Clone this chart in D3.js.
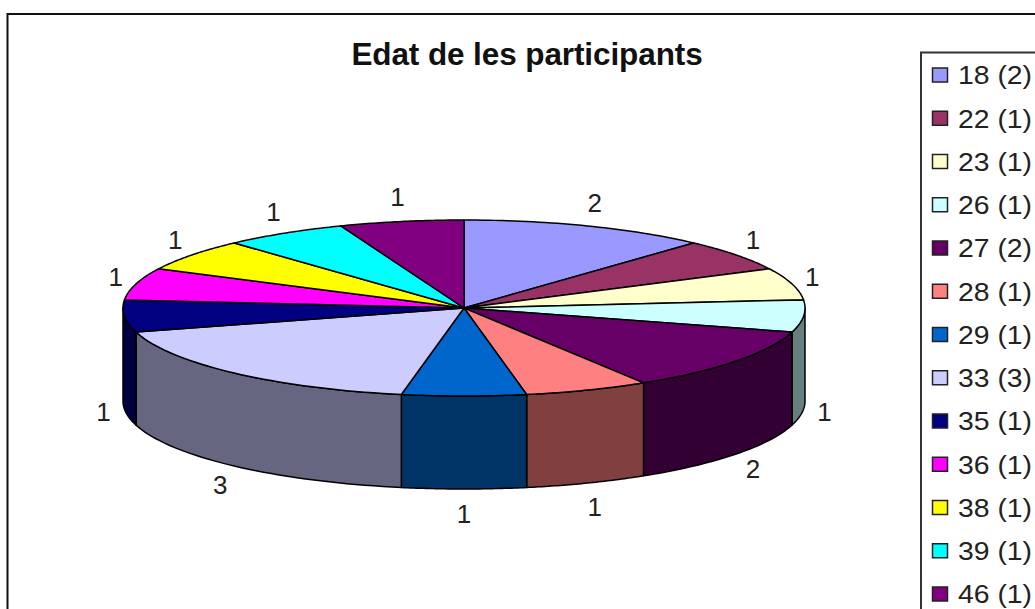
<!DOCTYPE html>
<html><head><meta charset="utf-8">
<script src="https://cdn.jsdelivr.net/npm/d3@7"></script>
<style>html,body{margin:0;padding:0;background:#fff}svg{display:block}text{font-family:"Liberation Sans",Arial,sans-serif}</style>
</head><body><svg id="c" width="1035" height="609"></svg>
<script>
const chartTitle = "Edat de les participants";
const ages = ["18","22","23","26","27","28","29","33","35","36","38","39","46"];
const counts = [2,1,1,1,2,1,1,3,1,1,1,1,1];
const topColors = ["#9999FF","#993366","#FFFFCC","#CCFFFF","#660066","#FF8080","#0066CC","#CCCCFF","#000080","#FF00FF","#FFFF00","#00FFFF","#800080"];

const svg = d3.select("#c");
const W = 1035, H = 609;
svg.append("path").attr("d", `M7.5,${H}V14H${W}`).attr("fill","none").attr("stroke","#111").attr("stroke-width",2);

svg.append("text").attr("x",527).attr("y",65).attr("text-anchor","middle")
  .attr("font-size",31.5).attr("font-weight","bold").attr("letter-spacing",-0.1).attr("fill","#111").text(chartTitle);

// projected disc
const px = d3.scaleLinear().domain([-1,1]).range([123,805]);
const py = d3.scaleLinear().domain([-1,1]).range([220,396]);
const depth = 93;
const pie = d3.pie().sort(null).value(d=>d);
const arcs = pie(counts);
const TAU = Math.PI*2;
const X = a => px(Math.sin(a)), Y = a => py(-Math.cos(a));
const sample = (a0,a1) => d3.range(0,41).map(i => a0+(a1-a0)*i/40);
const line = d3.line();
const half = c => { const k = d3.rgb(c); return d3.rgb(k.r*0.5,k.g*0.5,k.b*0.5); };

// walls (front half only), drawn beneath the top face
const g = svg.append("g");
arcs.forEach((d,i)=>{
  const a0 = Math.max(d.startAngle, Math.PI/2), a1 = Math.min(d.endAngle, TAU*0.75);
  if (a1 <= a0) return;
  const ang = sample(a0,a1);
  const pts = ang.map(a=>[X(a),Y(a)]).concat(ang.slice().reverse().map(a=>[X(a),Y(a)+depth]));
  g.append("path").attr("d", line(pts)+"Z").attr("fill", half(topColors[i]))
    .attr("stroke","#000").attr("stroke-width",1.5).attr("stroke-linejoin","round");
});
// top face
arcs.forEach((d,i)=>{
  const pts = [[px(0),py(0)]].concat(sample(d.startAngle,d.endAngle).map(a=>[X(a),Y(a)]));
  g.append("path").attr("d", line(pts)+"Z").attr("fill",topColors[i])
    .attr("stroke","#000").attr("stroke-width",1.5).attr("stroke-linejoin","round");
});
// data labels
const lx = d3.scaleLinear().domain([-1,1]).range([464-362,464+362]);
const ly = d3.scaleLinear().domain([-1,1]).range([308-113,308+113]);
arcs.forEach((d,i)=>{
  const m = (d.startAngle+d.endAngle)/2;
  const front = m>Math.PI/2 && m<TAU*0.75;
  svg.append("text").attr("x",lx(Math.sin(m))).attr("y",ly(-Math.cos(m))+(front?depth:0))
    .attr("dy","0.36em").attr("text-anchor","middle").attr("font-size",26).attr("fill","#222").text(counts[i]);
});
// legend
svg.append("path").attr("d",`M921,${H}V52.5H${W}`).attr("fill","none").attr("stroke","#333").attr("stroke-width",2);
const ly2 = d3.scalePoint().domain(ages).range([75,594]);
ages.forEach((a,i)=>{
  const y = ly2(a);
  svg.append("rect").attr("x",932.5).attr("y",y-7).attr("width",15).attr("height",14)
    .attr("fill",topColors[i]).attr("stroke","#222").attr("stroke-width",1.5);
  svg.append("text").attr("x",958).attr("y",y).attr("dy","0.36em").attr("font-size",26)
    .attr("textLength",74).attr("lengthAdjust","spacingAndGlyphs").attr("fill","#222")
    .text(`${a} (${counts[i]})`);
});
</script></body></html>
